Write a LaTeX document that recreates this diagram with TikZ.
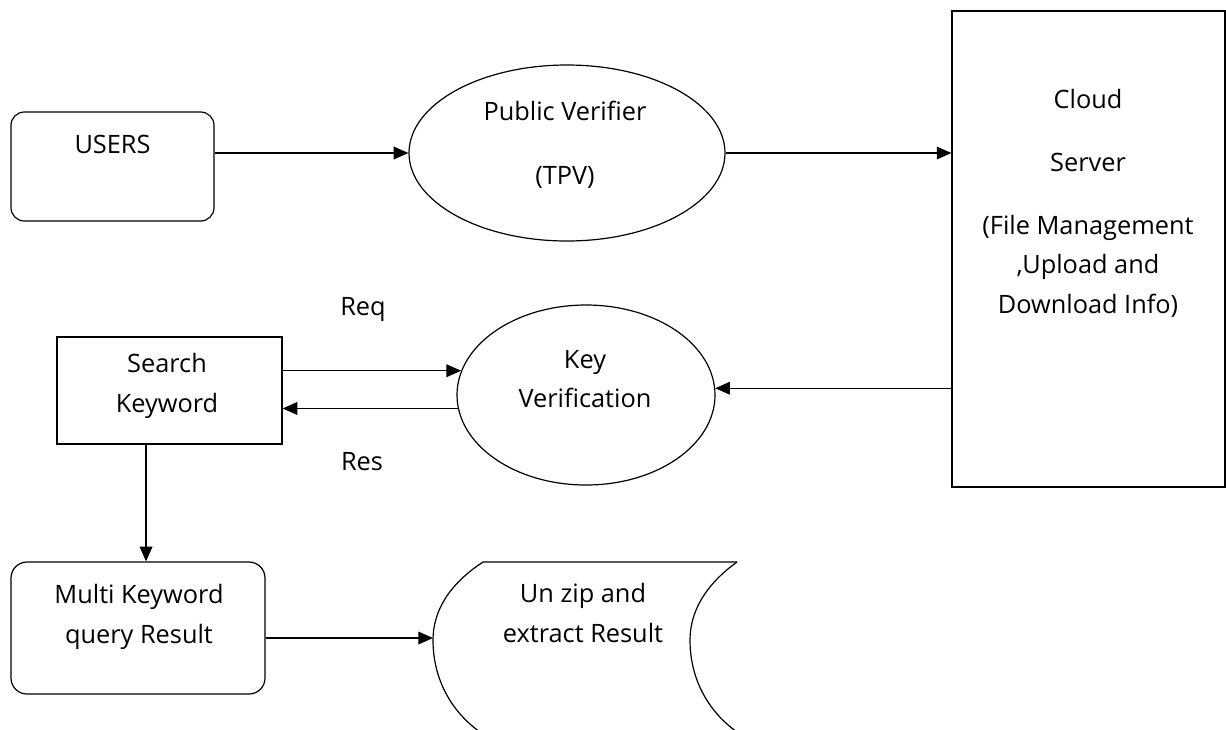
\documentclass[tikz,border=0pt]{standalone}
\usepackage{fontspec}
\setmainfont{Open Sans}
\usetikzlibrary{shapes.geometric,arrows.meta}
\begin{document}
\begin{tikzpicture}[x=0.75pt,y=-0.75pt,
  every node/.style={font=\fontsize{19}{29.6}\selectfont, align=center},
  shapebox/.style={draw=black, line width=0.9pt, inner sep=0pt},
  link/.style={draw=black, line width=0.9pt, -{Triangle[length=11pt,width=9.5pt]}}]
\useasboundingbox (0,0) rectangle (1226,729);
% shapes:
\node[shapebox, rounded corners=10pt, minimum width=152.25pt, minimum height=81.75pt] (users) at (112.5,166.5) {};
\node[shapebox, ellipse, minimum width=237pt, minimum height=132pt] (tpv) at (567,153) {};
\node[shapebox, minimum width=204.75pt, minimum height=357pt] (cloud) at (1088.5,249) {};
\node[shapebox, ellipse, minimum width=193.5pt, minimum height=135pt] (keyv) at (586,395) {};
\node[shapebox, minimum width=168.75pt, minimum height=80.25pt] (search) at (169.5,390.5) {};
\node[shapebox, rounded corners=12pt, minimum width=190.5pt, minimum height=99pt] (multi) at (138,628) {};
\path[draw=black, line width=0.9pt] (737,562) -- (483,562)
  .. controls (448,585) and (433,612) .. (433,640)
  .. controls (433,680) and (452,712) .. (480,732);
\path[draw=black, line width=0.9pt] (737,562)
  .. controls (705,585) and (690,612) .. (690,640)
  .. controls (690,680) and (709,712) .. (737,732);
\coordinate (unzipin) at (433,638);
% texts:
\node (userstext) at (112.5,144) {USERS};
\node (tpvtext) at (565,145) {Public Verifier\\[18.4pt](TPV)};
\node (cloudtext) at (1088,203) {Cloud\\[17.6pt]Server\\[17.6pt](File Management\\,Upload and\\Download Info)};
\node (keytext) at (585,379) {Key\\Verification};
\node (searchtext) at (167,386) {Search\\Keyword};
\node (multitext) at (139,617) {Multi Keyword\\query Result};
\node (unziptext) at (583,613) {Un zip and\\extract Result};
\node (reqtext) at (363,309) {Req};
\node (restext) at (362,462) {Res};
% arrows:
\draw[link] (users.east |- tpv.west) -- (tpv.west);
\draw[link] (tpv.east) -- (tpv.east -| cloud.west);
\draw[link] (cloud.west |- keyv.3) -- (keyv.3);
\draw[link] (search.east |- keyv.169) -- (keyv.169);
\draw[link] (keyv.186) -- (keyv.186 -| search.east);
\draw[link] ([xshift=-17.6pt]search.south) -- ([xshift=-17.6pt]search.south |- multi.north);
\draw[link] (multi.east |- unzipin) -- (unzipin);
\end{tikzpicture}
\end{document}
